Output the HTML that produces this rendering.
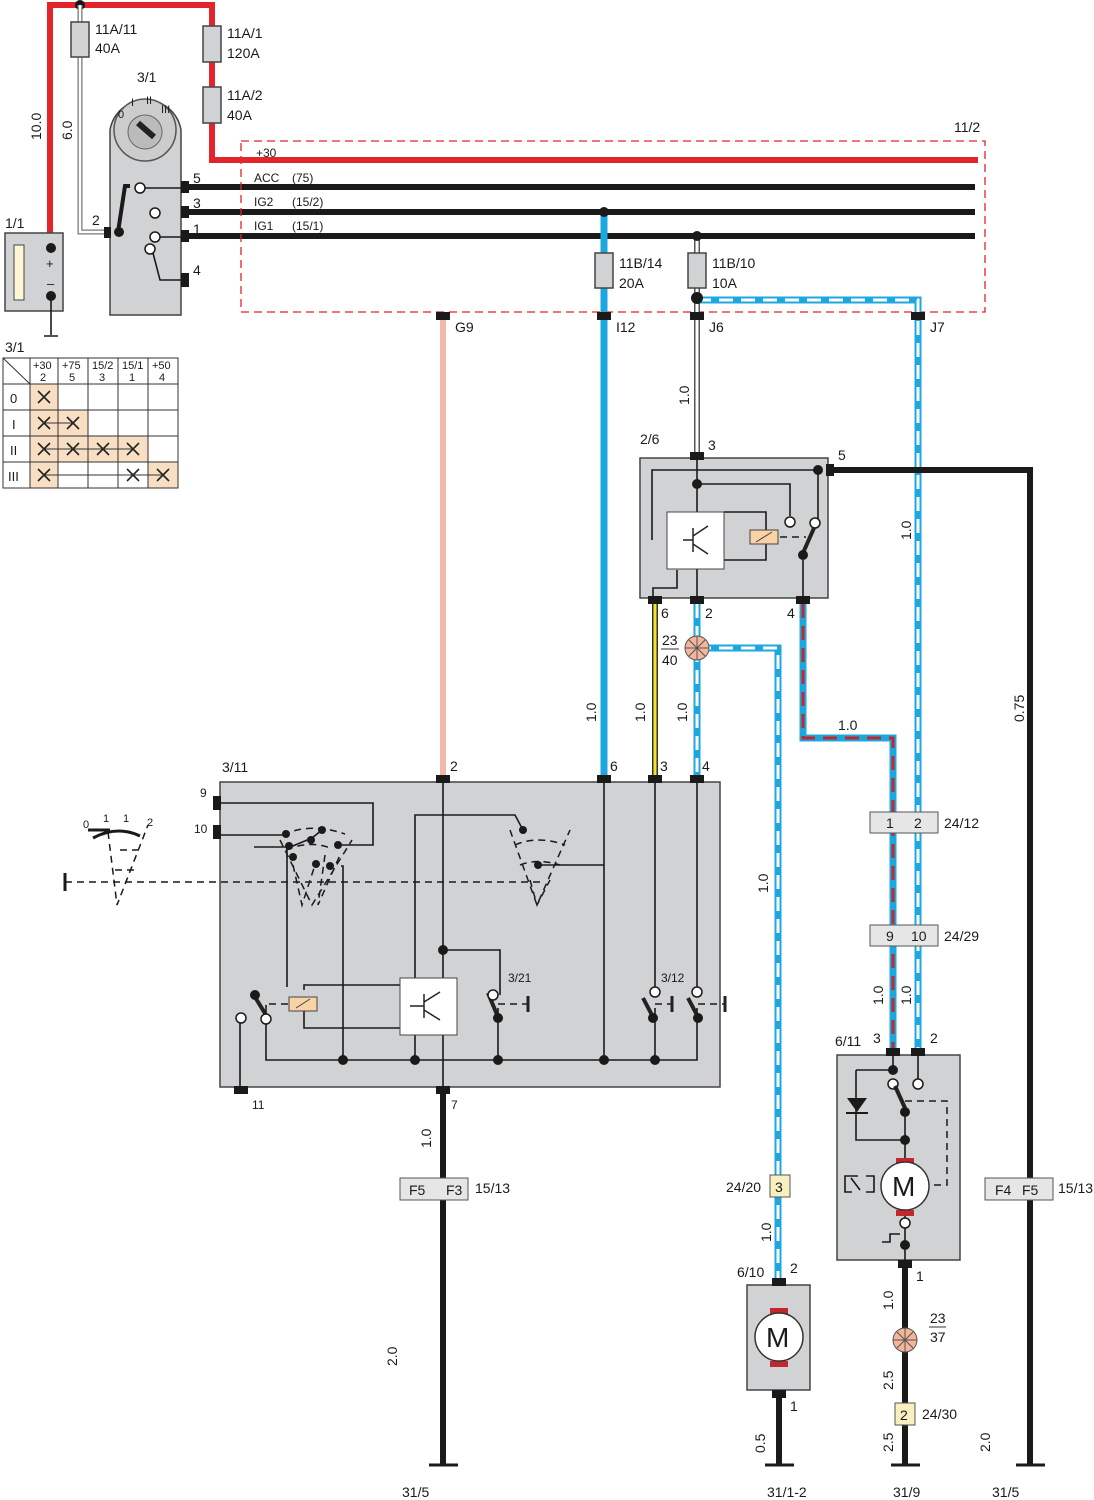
<!DOCTYPE html>
<html><head><meta charset="utf-8"><style>
html,body{margin:0;padding:0;background:#fff}
svg{display:block;font-family:"Liberation Sans",sans-serif;font-size:14px}
.g{fill:#d1d2d4;stroke:#444;stroke-width:1.5}
.w{fill:none;stroke:#1a1a1a;stroke-width:1.6}
.bk{fill:none;stroke:#1a1a1a;stroke-width:6}
.bl{fill:none;stroke:#1ca7df;stroke-width:7}
.wd{fill:none;stroke:#fff;stroke-width:3;stroke-dasharray:14 8}
.rd{fill:none;stroke:#c1272d;stroke-width:3;stroke-dasharray:14 8}
.cn{fill:#1a1a1a}
.oc{fill:#fff;stroke:#1a1a1a;stroke-width:1.5}
.fu{fill:#d1d2d4;stroke:#444;stroke-width:1.5}
.dash{fill:none;stroke:#1a1a1a;stroke-width:1.5;stroke-dasharray:7 5}
.x{stroke:#222;stroke-width:1.6;fill:none}
text{fill:#1a1a1a}
</style></head><body>
<svg width="1094" height="1500" viewBox="0 0 1094 1500" xmlns="http://www.w3.org/2000/svg">
<path d="M50 248 V5 H212 V160 H978" fill="none" stroke="#e3242b" stroke-width="6"/>
<circle cx="80" cy="5" r="5" class="cn"/>
<path d="M80 5 V232 H108" fill="none" stroke="#777" stroke-width="5"/>
<path d="M80 5 V232 H108" fill="none" stroke="#fff" stroke-width="2.5"/>
<rect x="71" y="22" width="18" height="35" class="fu"/>
<text x="95" y="34">11A/11</text><text x="95" y="53">40A</text>
<rect x="203" y="26" width="18" height="36" class="fu"/>
<text x="227" y="38">11A/1</text><text x="227" y="58">120A</text>
<rect x="203" y="87" width="18" height="36" class="fu"/>
<text x="227" y="100">11A/2</text><text x="227" y="120">40A</text>
<text transform="translate(41,140) rotate(-90)">10.0</text>
<text transform="translate(72,140) rotate(-90)">6.0</text>
<rect x="5" y="233" width="58" height="78" class="g"/>
<rect x="14" y="245" width="10" height="55" fill="#fdf6d4" stroke="#444"/>
<circle cx="51" cy="248" r="5" class="cn"/><circle cx="51" cy="296" r="5" class="cn"/>
<text x="46" y="268" font-size="13">+</text><text x="47" y="288" font-size="13">–</text>
<path d="M51 296 V335 M44 336 H58" class="w" stroke-width="2"/>
<text x="5" y="228">1/1</text>
<path d="M110 315 V130 A36 36 0 0 1 181 130 V315 Z" class="g"/>
<circle cx="145" cy="130" r="31" fill="#ccc" stroke="#555" stroke-width="1.5"/>
<circle cx="145" cy="132" r="17" fill="#bbb" stroke="#666"/>
<path d="M138 123 L154 137" stroke="#222" stroke-width="6"/>
<g font-size="11"><text x="118" y="118">0</text><text x="131" y="106">I</text><text x="146" y="104">II</text><text x="161" y="113">III</text></g>
<text x="137" y="82">3/1</text>
<path d="M118 232 L125 186 L130 186" stroke="#1a1a1a" stroke-width="4" fill="none"/>
<circle cx="119" cy="232" r="5" class="cn"/>
<rect x="104" y="227" width="7" height="11" class="cn"/>
<text x="92" y="225">2</text>
<circle cx="140" cy="188" r="5" class="oc"/><circle cx="155" cy="213" r="5" class="oc"/>
<circle cx="155" cy="237" r="5" class="oc"/><circle cx="150" cy="249" r="5" class="oc"/>
<path d="M145 188 H183 M160 237 H183 M153 253 L160 280 H183" class="w"/>
<rect x="181" y="181" width="8" height="12" class="cn"/><rect x="181" y="206" width="8" height="12" class="cn"/>
<rect x="181" y="230" width="8" height="12" class="cn"/><rect x="181" y="273" width="8" height="14" class="cn"/>
<text x="193" y="183">5</text><text x="193" y="208">3</text><text x="193" y="234">1</text><text x="193" y="275">4</text>
<path d="M185 187 H975 M185 212 H975 M185 236 H975" class="bk"/>
<rect x="241" y="141" width="744" height="171" fill="none" stroke="#e3242b" stroke-width="1.3" stroke-dasharray="8 5"/>
<text x="954" y="132">11/2</text>
<g font-size="12"><text x="256" y="157">+30</text><text x="254" y="182">ACC</text><text x="292" y="182">(75)</text>
<text x="254" y="206">IG2</text><text x="292" y="206">(15/2)</text><text x="254" y="230">IG1</text><text x="292" y="230">(15/1)</text></g>
<g font-size="11">
<text x="5" y="352" font-size="14">3/1</text>
<rect x="30" y="384" width="28" height="104" fill="#f8dfc4"/>
<rect x="58" y="410" width="30" height="26" fill="#f8dfc4"/>
<rect x="58" y="436" width="90" height="26" fill="#f8dfc4"/>
<rect x="148" y="462" width="30" height="26" fill="#f8dfc4"/>
<path d="M3 358 H178 V488 H3 Z M3 384 H178 M3 410 H178 M3 436 H178 M3 462 H178 M30 358 V488 M58 358 V488 M88 358 V488 M118 358 V488 M148 358 V488 M3 358 L30 384" fill="none" stroke="#333" stroke-width="1"/>
<text x="33" y="369">+30</text><text x="40" y="381">2</text><text x="62" y="369">+75</text><text x="69" y="381">5</text>
<text x="92" y="369">15/2</text><text x="99" y="381">3</text><text x="122" y="369">15/1</text><text x="129" y="381">1</text>
<text x="152" y="369">+50</text><text x="159" y="381">4</text>
<text x="10" y="403" font-size="13">0</text><text x="12" y="429" font-size="13">I</text><text x="10" y="455" font-size="13">II</text><text x="8" y="481" font-size="13">III</text>
<path class="x" d="M38 391 L50 403 M50 391 L38 403 M38 417 L50 429 M50 417 L38 429 M67 417 L79 429 M79 417 L67 429
M38 443 L50 455 M50 443 L38 455 M67 443 L79 455 M79 443 L67 455 M97 443 L109 455 M109 443 L97 455 M127 443 L139 455 M139 443 L127 455
M38 469 L50 481 M50 469 L38 481 M127 469 L139 481 M139 469 L127 481 M157 469 L169 481 M169 469 L157 481"/>
<path d="M44 423 H73 M44 449 H133 M44 475 H163" stroke="#333"/>
</g>
<path d="M604 212 V775" class="bl"/><circle cx="604" cy="212" r="5" class="cn"/>
<rect x="595" y="253" width="18" height="35" class="fu"/>
<text x="619" y="268">11B/14</text><text x="619" y="288">20A</text>
<path d="M697 236 V455" fill="none" stroke="#555" stroke-width="6"/>
<path d="M697 236 V455" fill="none" stroke="#fff" stroke-width="3"/>
<circle cx="697" cy="236" r="5" class="cn"/>
<rect x="688" y="253" width="18" height="35" class="fu"/>
<text x="712" y="268">11B/10</text><text x="712" y="288">10A</text>
<path d="M697 300 H918 V1050" class="bl"/><path d="M697 300 H918 V1050" class="wd"/>
<circle cx="697" cy="298" r="6" class="cn"/>
<path d="M443 316 V775" fill="none" stroke="#f2b8a8" stroke-width="6"/>
<rect x="436" y="312" width="14" height="8" class="cn"/><rect x="597" y="312" width="14" height="8" class="cn"/>
<rect x="690" y="312" width="14" height="8" class="cn"/><rect x="911" y="312" width="14" height="8" class="cn"/>
<text x="455" y="332">G9</text><text x="616" y="332">I12</text><text x="709" y="332">J6</text><text x="930" y="332">J7</text>
<rect x="640" y="458" width="188" height="140" class="g"/>
<text x="640" y="444">2/6</text><text x="708" y="450">3</text><text x="838" y="460">5</text>
<rect x="690" y="452" width="14" height="8" class="cn"/>
<rect x="826" y="464" width="8" height="12" class="cn"/>
<path d="M834 470 H1030 V1178" class="bk"/>
<path d="M697 458 V598 M653 598 V588 H677 V570 M697 484 H790 V516 M652 540 V470 H818 V520 M724 512 H766 V560 H724 M803 598 V560" class="w"/>
<rect x="667" y="512" width="57" height="57" fill="#fff" stroke="#444"/>
<path d="M683 540 H693 M693 528 V552 M693 536 L708 526 M693 544 L708 554" stroke="#222" stroke-width="1.5" fill="none"/>
<rect x="750" y="530" width="28" height="14" fill="#f9d2a6" stroke="#444"/>
<path d="M756 542 L772 532" stroke="#444"/>
<path d="M780 537 H806" class="dash"/>
<circle cx="697" cy="484" r="5" class="cn"/><circle cx="818" cy="470" r="5" class="cn"/>
<circle cx="790" cy="522" r="5" class="oc"/><circle cx="815" cy="523" r="5" class="oc"/>
<path d="M803 553 L814 528" stroke="#222" stroke-width="4"/><circle cx="803" cy="555" r="5" class="cn"/>
<rect x="648" y="596" width="14" height="8" class="cn"/><rect x="690" y="596" width="14" height="8" class="cn"/><rect x="796" y="596" width="14" height="8" class="cn"/>
<text x="661" y="618">6</text><text x="705" y="618">2</text><text x="787" y="618">4</text>
<path d="M655 604 V775" fill="none" stroke="#333" stroke-width="6"/>
<path d="M655 604 V775" fill="none" stroke="#f2e52a" stroke-width="3"/>
<path d="M697 604 V775 M697 648 H778 V1285" class="bl"/><path d="M697 604 V775 M697 648 H778 V1285" class="wd"/>
<circle cx="697" cy="648" r="12" fill="#f4b69a" stroke="#555"/>
<path d="M685 648 H709 M697 636 V660 M689 640 L705 656 M705 640 L689 656" stroke="#555"/>
<text x="662" y="645">23</text><path d="M661 649 H679" stroke="#333"/><text x="662" y="665">40</text>
<path d="M803 604 V738 H893 V1050" class="bl"/><path d="M803 604 V738 H893 V1050" class="rd"/>
<text x="838" y="730">1.0</text>
<rect x="870" y="812" width="68" height="21" fill="#e6e6e6" stroke="#555"/>
<text x="886" y="828">1</text><text x="914" y="828">2</text><text x="944" y="828">24/12</text>
<rect x="870" y="925" width="68" height="21" fill="#e6e6e6" stroke="#555"/>
<text x="886" y="941">9</text><text x="911" y="941">10</text><text x="944" y="941">24/29</text>
<g>
<text transform="translate(689,405) rotate(-90)">1.0</text>
<text transform="translate(596,722) rotate(-90)">1.0</text>
<text transform="translate(645,722) rotate(-90)">1.0</text>
<text transform="translate(687,722) rotate(-90)">1.0</text>
<text transform="translate(911,540) rotate(-90)">1.0</text>
<text transform="translate(1024,722) rotate(-90)">0.75</text>
<text transform="translate(768,893) rotate(-90)">1.0</text>
<text transform="translate(883,1005) rotate(-90)">1.0</text>
<text transform="translate(911,1005) rotate(-90)">1.0</text>
<text transform="translate(431,1148) rotate(-90)">1.0</text>
<text transform="translate(771,1242) rotate(-90)">1.0</text>
<text transform="translate(397,1366) rotate(-90)">2.0</text>
<text transform="translate(765,1453) rotate(-90)">0.5</text>
<text transform="translate(893,1310) rotate(-90)">1.0</text>
<text transform="translate(893,1390) rotate(-90)">2.5</text>
<text transform="translate(893,1452) rotate(-90)">2.5</text>
<text transform="translate(990,1452) rotate(-90)">2.0</text>
</g>
<rect x="220" y="782" width="500" height="305" class="g"/>
<text x="222" y="772">3/11</text>
<rect x="436" y="775" width="14" height="8" class="cn"/><rect x="597" y="775" width="14" height="8" class="cn"/>
<rect x="648" y="775" width="14" height="8" class="cn"/><rect x="690" y="775" width="14" height="8" class="cn"/>
<text x="450" y="771">2</text><text x="610" y="771">6</text><text x="660" y="771">3</text><text x="702" y="771">4</text>
<rect x="213" y="796" width="8" height="14" class="cn"/><rect x="213" y="825" width="8" height="14" class="cn"/>
<text x="200" y="797" font-size="12">9</text><text x="194" y="833" font-size="12">10</text>
<rect x="234" y="1086" width="14" height="8" class="cn"/><rect x="436" y="1086" width="14" height="8" class="cn"/>
<text x="252" y="1109" font-size="12">11</text><text x="451" y="1109" font-size="12">7</text>
<path d="M221 803 H373 V845 H338 M221 835 H283 M254 847 H287 V987 M288 848 L312 838 L322 830 M341 866 H343 V1060 M443 782 V1087 M443 950 H500 V995 M415 1060 V815 H515 L523 830 M604 782 V1060 M538 865 H604 M655 782 V992 M697 782 V992 M266 1005 V1060 H697 V1008 M655 1008 V1060 M498 1008 V1060 M240 1020 V1088 M304 990 V985 H400 M304 1008 V1028 H400" class="w"/>
<g class="dash" fill="none">
<path d="M283 835 Q310 822 345 834 M286 850 Q310 840 330 848 M293 865 L302 905 L315 865 M325 855 L318 905 L340 855 M280 840 L312 905 L352 840"/>
<path d="M510 830 L537 905 L570 830 M515 845 Q537 835 565 845 M520 865 Q537 858 560 865 M530 880 L537 905 L550 880"/>
<path d="M108 832 L117 905 L148 825 M120 850 H140 M115 870 H135"/>
</g>
<circle cx="286" cy="834" r="4" class="cn"/><circle cx="322" cy="830" r="4" class="cn"/>
<circle cx="289" cy="846" r="4" class="cn"/><circle cx="311" cy="840" r="4" class="cn"/><circle cx="338" cy="845" r="4" class="cn"/>
<circle cx="293" cy="857" r="4" class="cn"/><circle cx="316" cy="864" r="4" class="cn"/><circle cx="330" cy="866" r="4" class="cn"/>
<circle cx="523" cy="830" r="4" class="cn"/><circle cx="538" cy="865" r="4" class="cn"/>
<path d="M93 838 Q117 825 140 836" stroke="#1a1a1a" stroke-width="3" fill="none"/>
<path d="M88 830 H110" stroke="#1a1a1a" stroke-width="3"/>
<g font-size="11"><text x="83" y="828">0</text><text x="103" y="822">1</text><text x="123" y="822">1</text><text x="147" y="826">2</text></g>
<path d="M65 882 H545" class="dash"/><path d="M65 873 V891" stroke="#1a1a1a" stroke-width="3"/>
<rect x="400" y="978" width="57" height="57" fill="#fff" stroke="#444"/>
<path d="M410 1006 H424 M424 994 V1018 M424 1002 L440 992 M424 1010 L440 1020" stroke="#222" stroke-width="1.5" fill="none"/>
<circle cx="443" cy="950" r="5" class="cn"/>
<rect x="289" y="997" width="28" height="14" fill="#f9d2a6" stroke="#444"/>
<path d="M296 1008 L310 999" stroke="#444"/>
<path d="M269 1004 H289" class="dash"/>
<path d="M255 997 L266 1015" stroke="#222" stroke-width="4"/><circle cx="255" cy="995" r="5" class="cn"/>
<circle cx="241" cy="1018" r="5" class="oc"/><circle cx="266" cy="1019" r="5" class="oc"/>
<path d="M488 993 L498 1017" stroke="#222" stroke-width="4"/><circle cx="498" cy="1018" r="5" class="cn"/>
<circle cx="493" cy="995" r="5" class="oc"/><path d="M498 1004 H528" class="dash"/><path d="M528 996 V1012" stroke="#222" stroke-width="3"/>
<text x="508" y="982" font-size="12">3/21</text>
<path d="M643 998 L653 1017" stroke="#222" stroke-width="4"/><circle cx="653" cy="1018" r="5" class="cn"/><circle cx="655" cy="992" r="5" class="oc"/>
<path d="M688 998 L698 1017" stroke="#222" stroke-width="4"/><circle cx="698" cy="1018" r="5" class="cn"/><circle cx="697" cy="992" r="5" class="oc"/>
<path d="M655 1004 H672 M698 1004 H725" class="dash"/><path d="M672 996 V1012 M725 996 V1012" stroke="#222" stroke-width="3"/>
<text x="661" y="982" font-size="12">3/12</text>
<g class="cn"><circle cx="343" cy="1060" r="5"/><circle cx="415" cy="1060" r="5"/><circle cx="498" cy="1060" r="5"/><circle cx="604" cy="1060" r="5"/><circle cx="655" cy="1060" r="5"/></g>
<path d="M443 1094 V1465" class="bk"/>
<rect x="400" y="1178" width="68" height="22" fill="#e6e6e6" stroke="#555"/>
<text x="409" y="1195">F5</text><text x="446" y="1195">F3</text><text x="475" y="1193">15/13</text>
<path d="M429 1465 H458" stroke="#1a1a1a" stroke-width="3"/><text x="402" y="1497">31/5</text>
<path d="M1030 1200 V1465" class="bk"/>
<rect x="985" y="1178" width="68" height="22" fill="#e6e6e6" stroke="#555"/>
<text x="995" y="1195">F4</text><text x="1022" y="1195">F5</text><text x="1058" y="1193">15/13</text>
<path d="M1016 1465 H1045" stroke="#1a1a1a" stroke-width="3"/><text x="992" y="1497">31/5</text>
<rect x="770" y="1175" width="20" height="22" fill="#f9f0c0" stroke="#555"/>
<text x="775" y="1192">3</text><text x="726" y="1192">24/20</text>
<rect x="747" y="1285" width="63" height="105" class="g"/>
<rect x="772" y="1278" width="14" height="8" class="cn"/><text x="790" y="1273">2</text><text x="737" y="1277">6/10</text>
<rect x="770" y="1308" width="18" height="6" fill="#c1272d"/><rect x="770" y="1361" width="18" height="6" fill="#c1272d"/>
<circle cx="779" cy="1337" r="24" fill="#fff" stroke="#333" stroke-width="1.5"/>
<text x="766" y="1347" font-size="28">M</text>
<path d="M779 1393 V1465" class="bk"/><rect x="772" y="1390" width="14" height="8" class="cn"/>
<text x="790" y="1411">1</text>
<path d="M765 1465 H794" stroke="#1a1a1a" stroke-width="3"/><text x="767" y="1497">31/1-2</text>
<rect x="837" y="1055" width="123" height="205" class="g"/>
<text x="835" y="1046">6/11</text><text x="873" y="1043">3</text><text x="930" y="1043">2</text>
<rect x="886" y="1048" width="14" height="8" class="cn"/><rect x="911" y="1048" width="14" height="8" class="cn"/>
<path d="M893 1056 V1070 M856 1070 H893 M856 1070 V1140 H905 M918 1056 V1080 M905 1110 V1160 M905 1202 V1262" class="w"/>
<path d="M847 1098 H867 L857 1112 Z" class="cn"/><path d="M846 1113 H868" stroke="#1a1a1a" stroke-width="2"/>
<circle cx="893" cy="1070" r="5" class="cn"/><circle cx="893" cy="1084" r="5" class="oc"/><circle cx="918" cy="1084" r="5" class="oc"/>
<path d="M895 1086 L905 1108" stroke="#222" stroke-width="4"/><circle cx="905" cy="1112" r="5" class="cn"/><circle cx="905" cy="1140" r="5" class="cn"/>
<path d="M905 1101 H947 V1185 H932" class="dash"/>
<rect x="896" y="1158" width="18" height="6" fill="#c1272d"/><rect x="896" y="1210" width="18" height="6" fill="#c1272d"/>
<circle cx="905" cy="1186" r="24" fill="#fff" stroke="#333" stroke-width="1.5"/>
<text x="892" y="1196" font-size="28">M</text>
<path d="M858 1176 H845 V1192 H852 M866 1176 H874 V1192 H866 M851 1178 L860 1190" class="w" stroke-width="1.2"/>
<circle cx="905" cy="1223" r="5" class="oc"/><circle cx="905" cy="1245" r="5" class="cn"/>
<path d="M882 1242 H890 V1234 H900" class="w" stroke-width="1.2"/>
<rect x="898" y="1260" width="14" height="8" class="cn"/><text x="916" y="1281">1</text>
<path d="M905 1266 V1465" class="bk"/>
<circle cx="905" cy="1340" r="12" fill="#f4b69a" stroke="#555"/>
<path d="M893 1340 H917 M905 1328 V1352 M897 1332 L913 1348 M913 1332 L897 1348" stroke="#555"/>
<text x="930" y="1323">23</text><path d="M929 1327 H946" stroke="#333"/><text x="930" y="1342">37</text>
<rect x="895" y="1403" width="20" height="22" fill="#f9f0c0" stroke="#555"/>
<text x="900" y="1420">2</text><text x="922" y="1419">24/30</text>
<path d="M891 1465 H920" stroke="#1a1a1a" stroke-width="3"/><text x="893" y="1497">31/9</text>
</svg>
</body></html>
